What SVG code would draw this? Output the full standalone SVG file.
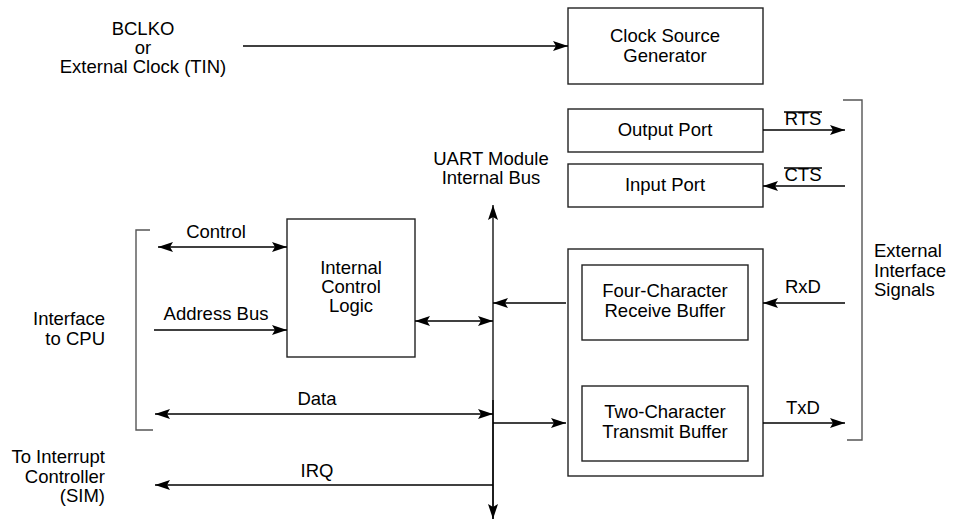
<svg xmlns="http://www.w3.org/2000/svg" width="954" height="520" viewBox="0 0 954 520">
<defs>
<style>
text{font-family:"Liberation Sans",Arial,sans-serif;font-size:18.5px;fill:#000}
.m{text-anchor:middle}.e{text-anchor:end}
.box{fill:#fff;stroke:#222;stroke-width:1.4}
.ln{fill:none;stroke:#000;stroke-width:1.3}
.br{fill:none;stroke:#555;stroke-width:1.4}
</style>
<marker id="a" viewBox="0 0 15 10" refX="15" refY="5" markerWidth="15" markerHeight="10" markerUnits="userSpaceOnUse" orient="auto-start-reverse"><path d="M0,0 L15,5 L0,10 L3,5 z" fill="#000"/></marker>
</defs>
<rect width="954" height="520" fill="#fff"/>
<g id="clock-input-label">
<text class="m" x="143" y="35">BCLKO</text>
<text class="m" x="143" y="54">or</text>
<text class="m" x="143" y="73">External Clock (TIN)</text>
</g>
<g id="clock-source"><rect class="box" x="568" y="8" width="195" height="76"/><text class="m" x="665" y="42">Clock Source</text><text class="m" x="665" y="62">Generator</text></g>
<g id="output-port"><rect class="box" x="568" y="109" width="195" height="43"/><text class="m" x="665" y="136">Output Port</text></g>
<g id="input-port"><rect class="box" x="568" y="164" width="195" height="43"/><text class="m" x="665" y="191">Input Port</text></g>
<g id="buffers"><rect class="box" x="568" y="249" width="195" height="227"/></g>
<g id="receive-buffer"><rect class="box" x="582" y="265" width="166" height="75"/><text class="m" x="665" y="297">Four-Character</text><text class="m" x="665" y="317">Receive Buffer</text></g>
<g id="transmit-buffer"><rect class="box" x="582" y="386" width="166" height="75"/><text class="m" x="665" y="418">Two-Character</text><text class="m" x="665" y="438">Transmit Buffer</text></g>
<g id="control-logic"><rect class="box" x="287" y="219" width="128" height="138"/><text class="m" x="351" y="274">Internal</text><text class="m" x="351" y="293">Control</text><text class="m" x="351" y="312">Logic</text></g>
<g id="bus-label"><text class="m" x="491" y="165">UART Module</text><text class="m" x="491" y="184">Internal Bus</text></g>
<g id="external-label"><text x="874" y="257">External</text><text x="874" y="277">Interface</text><text x="874" y="296">Signals</text></g>
<g id="cpu-label"><text class="e" x="105" y="325">Interface</text><text class="e" x="105" y="345">to CPU</text></g>
<g id="sim-label"><text class="e" x="105" y="463">To Interrupt</text><text class="e" x="105" y="483">Controller</text><text class="e" x="105" y="502">(SIM)</text></g>
<g id="brackets">
<path class="br" d="M150,230 H136 V430 H153"/>
<path class="br" d="M843,100 H862 V440 H847"/>
</g>
<g id="connectors">
<line class="ln" x1="243" y1="46" x2="568" y2="46" marker-end="url(#a)"/>
<line class="ln" x1="763" y1="130" x2="845" y2="130" marker-end="url(#a)"/>
<line class="ln" x1="845" y1="186" x2="763" y2="186" marker-end="url(#a)"/>
<line class="ln" x1="845" y1="303" x2="763" y2="303" marker-end="url(#a)"/>
<line class="ln" x1="763" y1="423" x2="845" y2="423" marker-end="url(#a)"/>
<line class="ln" x1="493" y1="519" x2="493" y2="205" marker-end="url(#a)"/>
<line class="ln" x1="493" y1="400" x2="493" y2="519" marker-end="url(#a)"/>
<line class="ln" x1="566" y1="303" x2="493" y2="303" marker-end="url(#a)"/>
<line class="ln" x1="493" y1="423" x2="566" y2="423" marker-end="url(#a)"/>
<line class="ln" x1="158" y1="247" x2="287" y2="247" marker-start="url(#a)" marker-end="url(#a)"/>
<line class="ln" x1="154" y1="330" x2="287" y2="330" marker-end="url(#a)"/>
<line class="ln" x1="415" y1="321" x2="493" y2="321" marker-start="url(#a)" marker-end="url(#a)"/>
<line class="ln" x1="155" y1="414" x2="493" y2="414" marker-start="url(#a)" marker-end="url(#a)"/>
<line class="ln" x1="493" y1="485" x2="155" y2="485" marker-end="url(#a)"/>
<text class="m" x="803" y="125">RTS</text><line class="ln" x1="784" y1="112" x2="822" y2="112"/>
<text class="m" x="803" y="181">CTS</text><line class="ln" x1="784" y1="168" x2="822" y2="168"/>
<text class="m" x="803" y="293">RxD</text>
<text class="m" x="803" y="414">TxD</text>
<text class="m" x="216" y="238">Control</text>
<text class="m" x="216" y="320">Address Bus</text>
<text class="m" x="317" y="405">Data</text>
<text class="m" x="317" y="477">IRQ</text>
</g>
</svg>
